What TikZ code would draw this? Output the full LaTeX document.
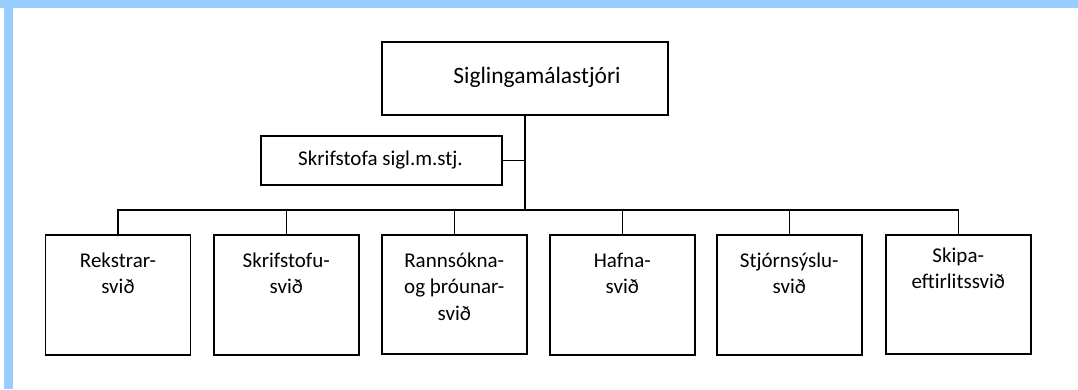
\documentclass[tikz,border=0pt]{standalone}
\usepackage{fontspec}
\setmainfont{Carlito}
\definecolor{bandblue}{HTML}{99CCFF}
\begin{document}
\begin{tikzpicture}[x=1pt,y=-1pt,
  line width=1.5pt,
  orgbox/.style={draw=black, fill=white, inner sep=0pt, line width=1.5pt},
  unitbox/.style={orgbox, minimum width=145pt, minimum height=120pt, anchor=north west},
  unittext/.style={anchor=north, inner sep=0pt, align=center, font=\fontsize{21}{26.5}\selectfont, yshift=-18pt},
  link/.style={draw=black, line width=1.5pt}]
\useasboundingbox (0,0) rectangle (1078,389);
\fill[bandblue] (0,0) rectangle (1078,8);
\fill[bandblue] (4,0) rectangle (13,389);

\node[orgbox, minimum width=286pt, minimum height=73pt,
  label={[xshift=12pt,yshift=1pt,font=\fontsize{23.5}{28}\selectfont]center:Siglingamálastjóri}]
  (top) at (525,78.5) {};
\node[orgbox, minimum width=241pt, minimum height=49pt,
  label={[xshift=-1pt,font=\fontsize{21}{26}\selectfont]center:Skrifstofa sigl.m.stj.}]
  (office) at (381.5,160.5) {};

\node[unitbox, label={[unittext]north:Rekstrar-\\svið}] (b1) at (44.7,234) {};
\node[unitbox, label={[unittext]north:Skrifstofu-\\svið}] (b2) at (213,234) {};
\node[unitbox, minimum height=119pt, label={[unittext]north:Rannsókna-\\og þróunar-\\svið}] (b3) at (381,234) {};
\node[unitbox, label={[unittext]north:Hafna-\\svið}] (b4) at (549,234) {};
\node[unitbox, label={[unittext]north:Stjórnsýslu-\\svið}] (b5) at (716,234) {};
\node[unitbox, minimum height=119pt, label={[unittext,yshift=5pt]north:Skipa-\\eftirlitssvið}] (b6) at (885,234) {};

\coordinate (junction) at (525,210);
\draw[link] (top.south) -- (junction);
\draw[link] (office.east) -- (office.east -| top.south);
\draw[link] (b1.north) |- (junction) -| (b6.north);
\foreach \b in {b2,b3,b4,b5} \draw[link] (\b.north) -- (\b.north |- junction);
\end{tikzpicture}
\end{document}
